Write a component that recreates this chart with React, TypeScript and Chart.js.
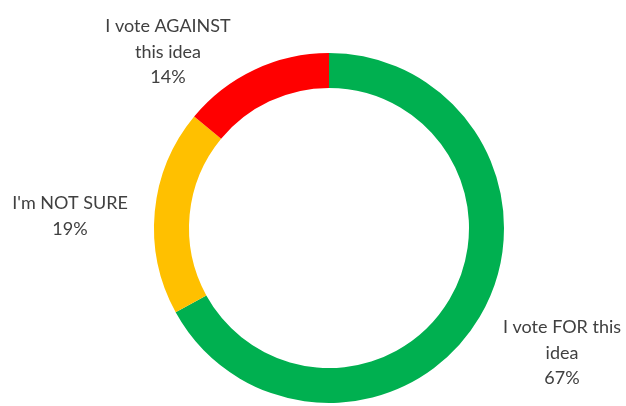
import React, { useEffect, useRef } from "react";
import { Chart, registerables } from "chart.js";

Chart.register(...registerables);

const categories = ["I vote FOR this idea", "I'm NOT SURE", "I vote AGAINST this idea"];
const values = [67, 19, 14];
const labelLines = [
  ["I vote FOR this", "idea", "67%"],
  ["I'm NOT SURE", "19%"],
  ["I vote AGAINST", "this idea", "14%"],
];
const colors = ["#00B050", "#FFC000", "#FF0000"];

const labelAnchors = [
  { x: 562, y: 333 },
  { x: 70, y: 209 },
  { x: 168, y: 32 },
];

const labelPlugin = {
  id: "outsideLabels",
  afterDraw(chart: any) {
    const ctx = chart.ctx;
    ctx.save();
    ctx.font = "18px Lato, 'Liberation Sans', sans-serif";
    ctx.fillStyle = "#404040";
    ctx.textAlign = "center";
    ctx.textBaseline = "alphabetic";
    labelLines.forEach((lines, i) => {
      const a = labelAnchors[i];
      lines.forEach((t, j) => ctx.fillText(t, a.x, a.y + j * 25.5));
    });
    ctx.restore();
  },
};

export default function App() {
  const ref = useRef<HTMLCanvasElement>(null);
  useEffect(() => {
    if (!ref.current) return;
    const chart = new Chart(ref.current, {
      type: "doughnut",
      data: {
        labels: categories,
        datasets: [
          {
            data: values,
            backgroundColor: colors,
            borderWidth: 0,
          },
        ],
      },
      options: {
        responsive: false,
        animation: false,
        cutout: "80%",
        rotation: 0,
        layout: { padding: { left: 154, right: 122, top: 53, bottom: 3 } },
        plugins: { legend: { display: false }, tooltip: { enabled: false } },
      },
      plugins: [labelPlugin],
    });
    return () => chart.destroy();
  }, []);
  return (
    <div style={{ position: "fixed", left: 0, top: 0, width: 626, height: 406, background: "#fff" }}>
      <canvas ref={ref} width={626} height={406} />
    </div>
  );
}
